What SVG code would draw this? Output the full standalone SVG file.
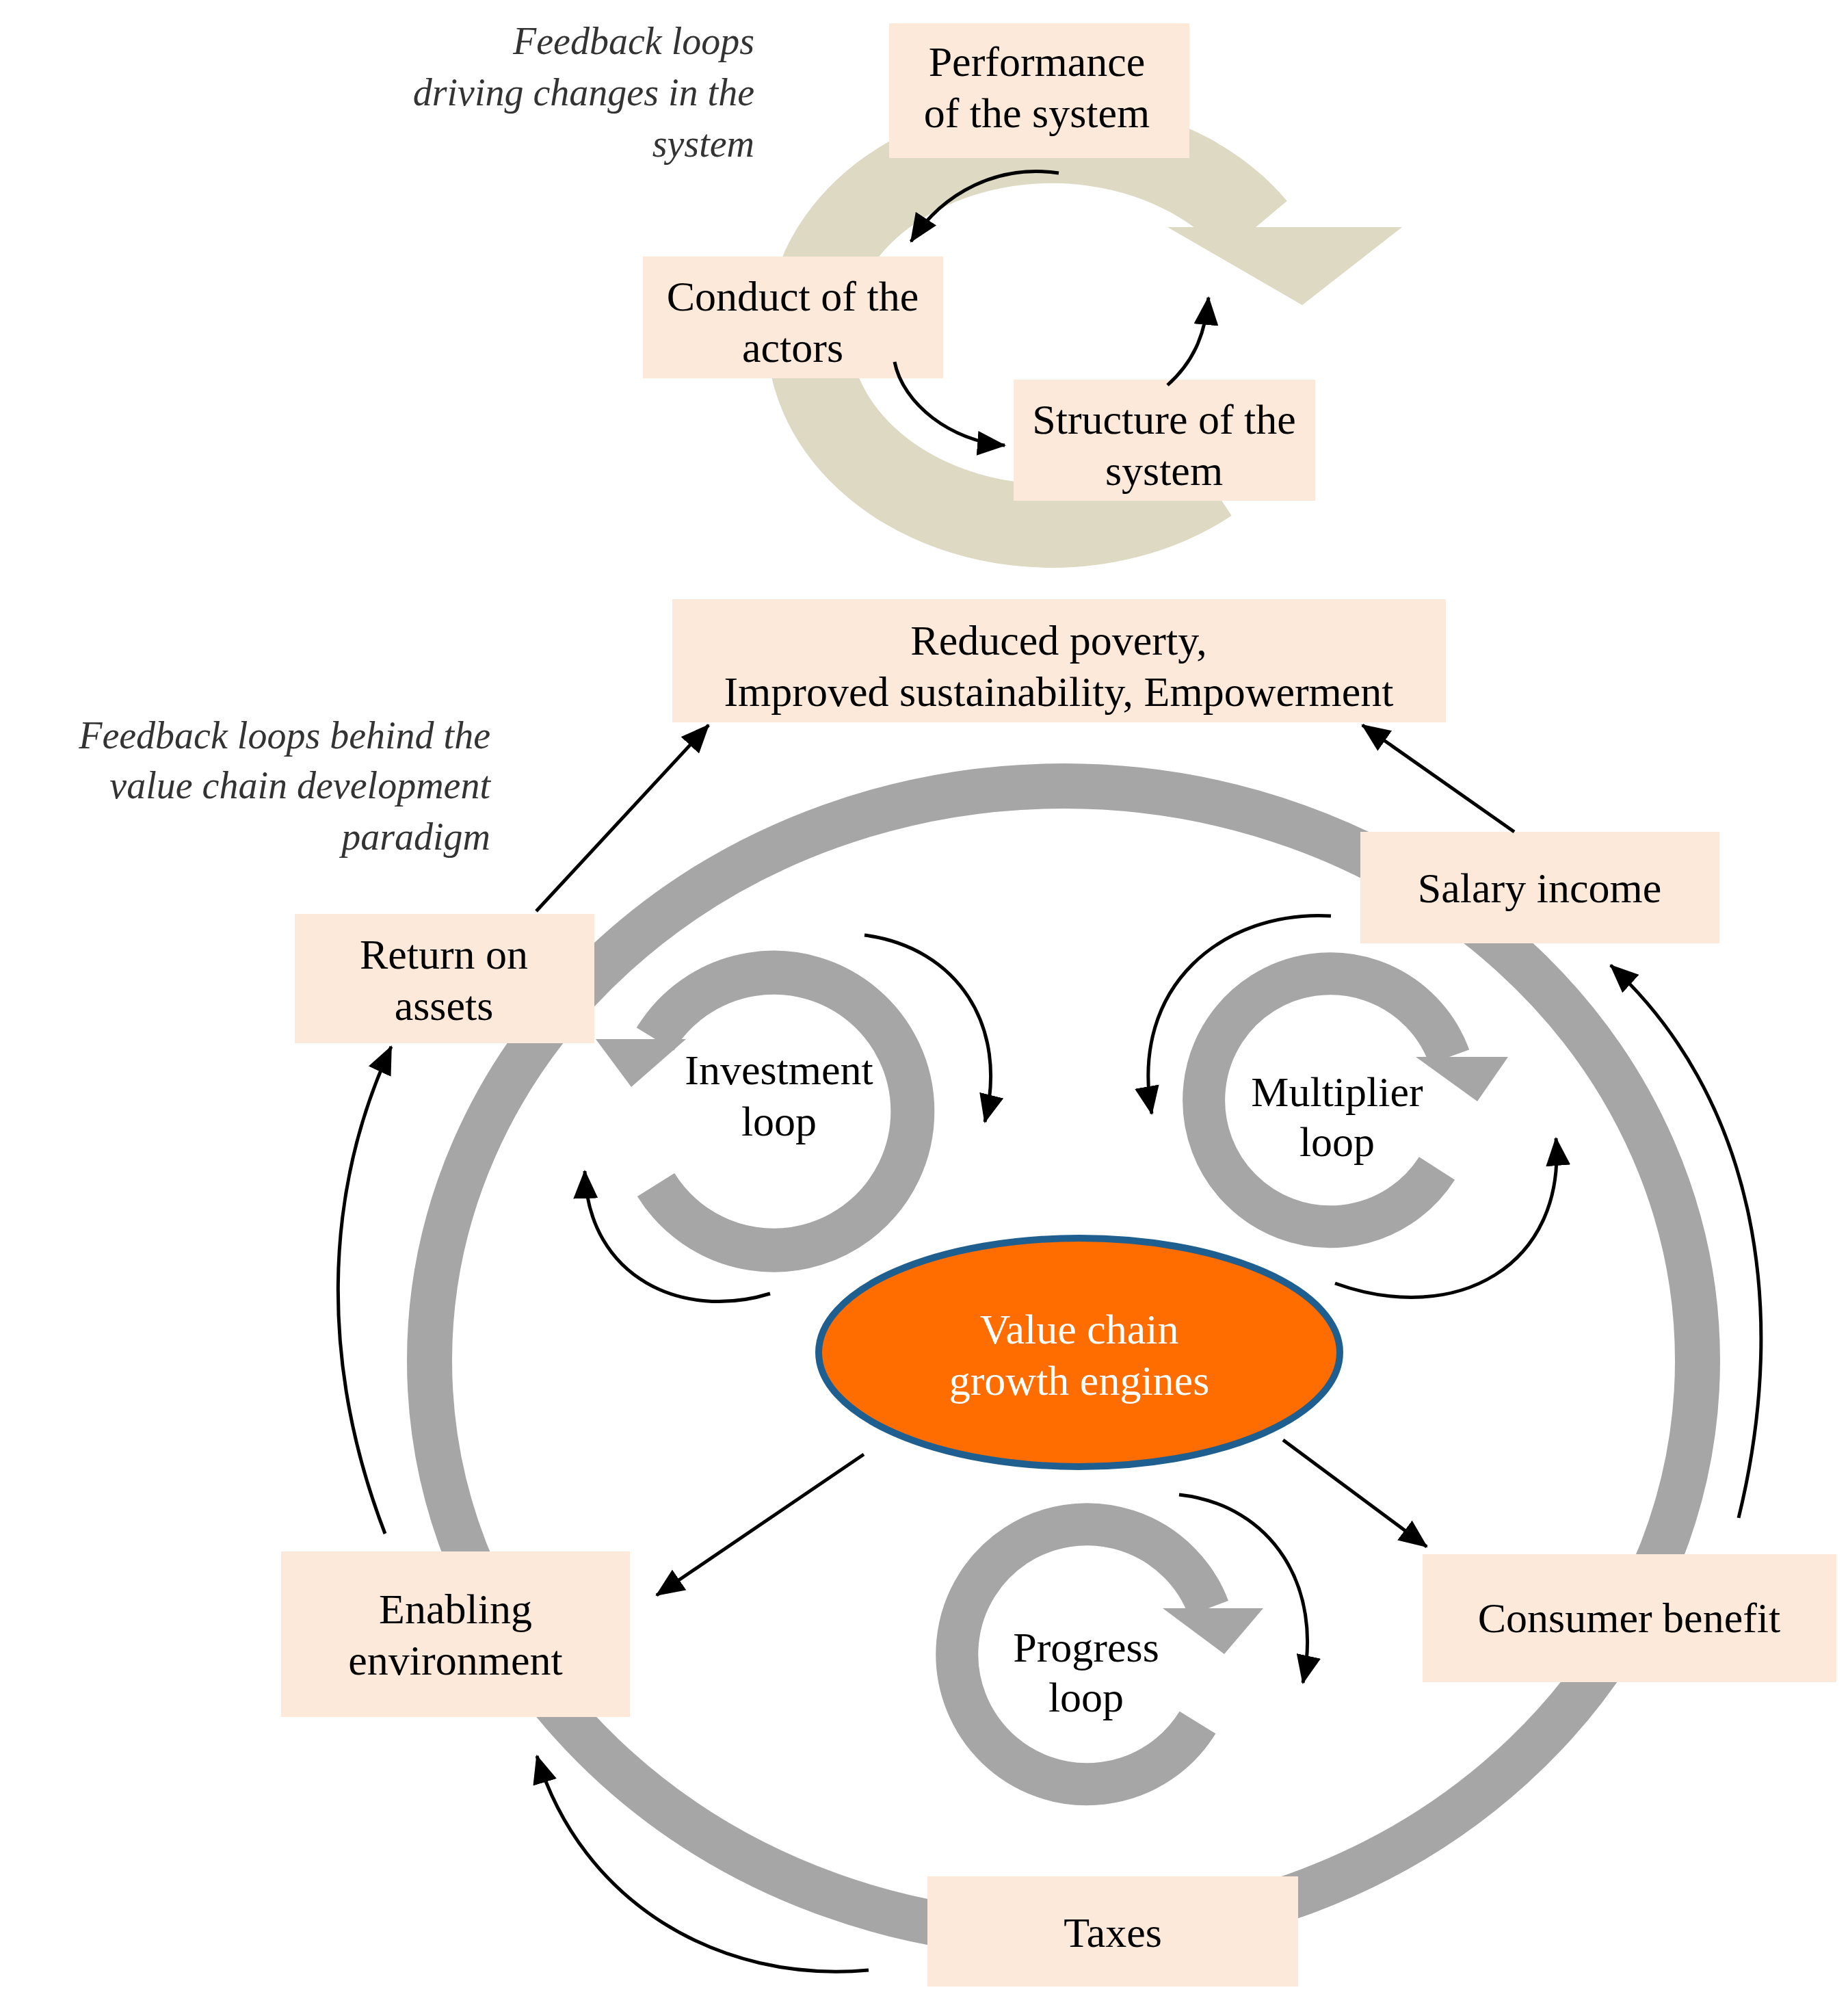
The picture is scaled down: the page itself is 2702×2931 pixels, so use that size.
<svg xmlns="http://www.w3.org/2000/svg" width="2702" height="2931" viewBox="0 0 2702 2931">
<defs>
<marker id="ah" markerUnits="userSpaceOnUse" markerWidth="42" markerHeight="36" refX="40" refY="18" orient="auto"><path d="M0,0 L42,18 L0,36 Z" fill="#000"/></marker>
<style>
.box{fill:#FDE9D9}
.t{font-family:"Liberation Serif","Times New Roman",serif;font-size:62px;fill:#000;text-anchor:middle}
.it{font-family:"Liberation Serif","Times New Roman",serif;font-size:56px;font-style:italic;fill:#333;text-anchor:end}
.ring{fill:none;stroke:#A6A6A6}
.con{fill:none;stroke:#000;stroke-width:5;marker-end:url(#ah)}
</style>
</defs>
<rect width="2702" height="2931" fill="#fff"/>
<g id="beige-cycle">
<path d="M1767,703 A356,281 0 1 1 1835,333" fill="none" stroke="#DDD9C3" stroke-width="122"/>
<polygon points="1707,332 2050,332 1904,446" fill="#DDD9C3"/>
</g>
<g id="big-ring"><ellipse cx="1555" cy="1989" rx="927" ry="840" class="ring" stroke-width="66"/></g>
<g id="investment-loop">
<path d="M959,1732 A203,203 0 1 0 958,1519" class="ring" stroke-width="64" transform="translate(0,0)"/>
<polygon points="871,1519 1003,1519 923,1589" fill="#A6A6A6"/>
<text class="t" x="1139" y="1585">Investment</text><text class="t" x="1139" y="1660">loop</text>
</g>
<g id="multiplier-loop">
<path d="M2101,1708 A185,185 0 1 1 2119,1545" class="ring" stroke-width="62"/>
<polygon points="2070,1545 2205,1545 2160,1610" fill="#A6A6A6"/>
<text class="t" x="1955" y="1617">Multiplier</text><text class="t" x="1955" y="1690">loop</text>
</g>
<g id="progress-loop">
<path d="M1751,2518 A190,190 0 1 1 1767,2351" class="ring" stroke-width="62"/>
<polygon points="1700,2351 1847,2351 1790,2418" fill="#A6A6A6"/>
<text class="t" x="1588" y="2429">Progress</text><text class="t" x="1588" y="2502">loop</text>
</g>
<g id="captions">
<text class="it" x="1103" y="79">Feedback loops</text>
<text class="it" x="1103" y="154">driving changes in the</text>
<text class="it" x="1103" y="229">system</text>
<text class="it" x="717" y="1094">Feedback loops behind the</text>
<text class="it" x="717" y="1167">value chain development</text>
<text class="it" x="717" y="1242">paradigm</text>
</g>
<g id="performance"><rect class="box" x="1300" y="34" width="439" height="197"/><text class="t" x="1516" y="111">Performance</text><text class="t" x="1516" y="186">of the system</text></g>
<g id="conduct"><rect class="box" x="940" y="375" width="439" height="178"/><text class="t" x="1159" y="454">Conduct of the</text><text class="t" x="1159" y="529">actors</text></g>
<g id="structure"><rect class="box" x="1482" y="555" width="441" height="177"/><text class="t" x="1702" y="634">Structure of the</text><text class="t" x="1702" y="709">system</text></g>
<g id="reduced"><rect class="box" x="983" y="876" width="1131" height="180"/><text class="t" x="1548" y="957">Reduced poverty,</text><text class="t" x="1548" y="1032">Improved sustainability, Empowerment</text></g>
<g id="return"><rect class="box" x="431" y="1336" width="438" height="189"/><text class="t" x="649" y="1416">Return on</text><text class="t" x="649" y="1491">assets</text></g>
<g id="salary"><rect class="box" x="1989" y="1216" width="525" height="163"/><text class="t" x="2251" y="1319">Salary income</text></g>
<g id="enabling"><rect class="box" x="411" y="2268" width="510" height="242"/><text class="t" x="666" y="2373">Enabling</text><text class="t" x="666" y="2448">environment</text></g>
<g id="consumer"><rect class="box" x="2080" y="2272" width="605" height="187"/><text class="t" x="2382" y="2386">Consumer benefit</text></g>
<g id="taxes"><rect class="box" x="1356" y="2743" width="542" height="161"/><text class="t" x="1627" y="2846">Taxes</text></g>
<g id="engine"><ellipse cx="1578" cy="1977" rx="381" ry="167" fill="#FF6D00" stroke="#1F5F8F" stroke-width="10"/><text class="t" x="1578" y="1964" fill="#fff" style="fill:#fff">Value chain</text><text class="t" x="1578" y="2039" style="fill:#fff">growth engines</text></g>
<g id="connectors">
<path class="con" d="M1548,253 C1460,240 1380,280 1332,353"/>
<path class="con" d="M1308,529 C1320,590 1390,645 1469,651"/>
<path class="con" d="M1707,563 C1750,525 1763,480 1767,435"/>
<path class="con" d="M1264,1367 C1400,1385 1475,1500 1440,1640"/>
<path class="con" d="M1126,1891 C1000,1930 860,1870 855,1712"/>
<path class="con" d="M1946,1339 C1790,1330 1650,1440 1684,1628"/>
<path class="con" d="M1952,1876 C2130,1940 2290,1850 2275,1664"/>
<path class="con" d="M1724,2185 C1860,2200 1935,2320 1905,2460"/>
<path class="con" d="M784,1332 L1036,1060"/>
<path class="con" d="M2214,1216 L1992,1060"/>
<path class="con" d="M563,2242 C470,2000 470,1750 572,1530"/>
<path class="con" d="M2542,2219 C2620,1900 2560,1600 2355,1411"/>
<path class="con" d="M1270,2880 C1050,2900 850,2780 785,2567"/>
<path class="con" d="M1263,2126 L960,2332"/>
<path class="con" d="M1876,2105 L2086,2261"/>
</g>
</svg>
